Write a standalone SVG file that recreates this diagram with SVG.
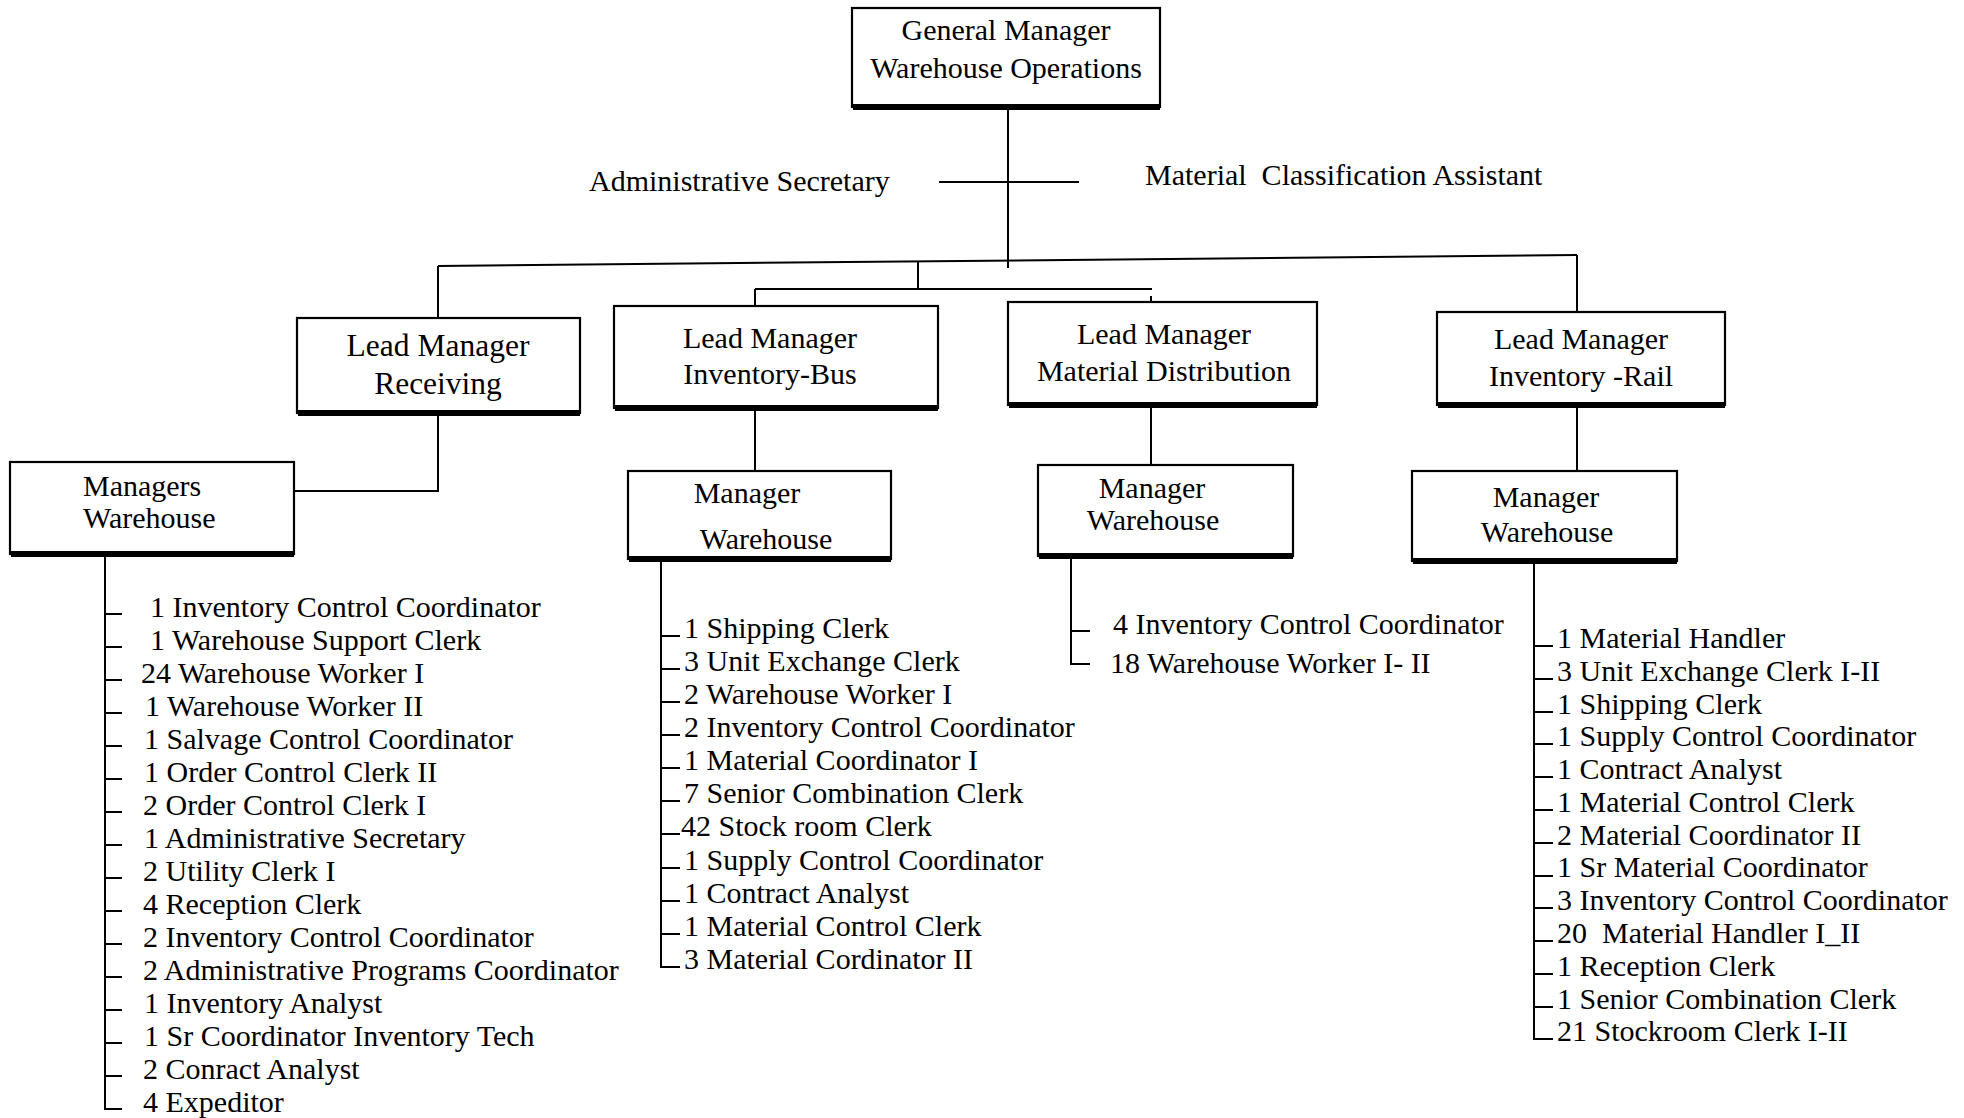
<svg xmlns="http://www.w3.org/2000/svg" width="1964" height="1118" viewBox="0 0 1964 1118">
<style>
.box{fill:#fff;stroke:#000;stroke-width:2.2}
.sh{fill:#000}
.ln{stroke:#000;stroke-width:2;fill:none}
text{font-family:"Liberation Serif","Times New Roman",serif;font-size:30px;fill:#000;white-space:pre}
.c{text-anchor:middle}
.big{font-size:31.5px}
</style>
<rect width="1964" height="1118" fill="#fff"/>
<g id="connectors">
<path class="ln" d="M1008 108V268"/>
<path class="ln" d="M939 182H1079"/>
<path class="ln" d="M438 266L1577 255"/>
<path class="ln" d="M918 262V289"/>
<path class="ln" d="M755 289H1152"/>
<path class="ln" d="M755 289V306"/>
<path class="ln" d="M1151 296V302"/>
<path class="ln" d="M1577 255V312"/>
<path class="ln" d="M438 266V318"/>
<path class="ln" d="M438 413V491H294"/>
<path class="ln" d="M755 408V471"/>
<path class="ln" d="M1151 405V465"/>
<path class="ln" d="M1577 405V471"/>
<path class="ln" d="M105 556V1109H122 M105 614H122 M105 647H122 M105 680H122 M105 713H122 M105 746H122 M105 779H122 M105 812H122 M105 845H122 M105 878H122 M105 911H122 M105 944H122 M105 977H122 M105 1010H122 M105 1043H122 M105 1076H122"/>
<path class="ln" d="M661 561V967H680 M661 636H680 M661 669H680 M661 702H680 M661 735H680 M661 768H680 M661 801H680 M661 834H680 M661 868H680 M661 901H680 M661 934H680"/>
<path class="ln" d="M1071 558V664H1090 M1071 631H1090"/>
<path class="ln" d="M1534 563V1039H1553 M1534 646H1553 M1534 679H1553 M1534 712H1553 M1534 744H1553 M1534 777H1553 M1534 810H1553 M1534 843H1553 M1534 876H1553 M1534 908H1553 M1534 941H1553 M1534 974H1553 M1534 1007H1553"/>
</g>
<g id="gm">
<rect class="box" x="852" y="8" width="308" height="99"/>
<rect class="sh" x="853" y="104" width="307" height="6"/>
<text class="c" x="1006" y="40">General Manager</text>
<text class="c" x="1006" y="78">Warehouse Operations</text>
</g>
<g id="admin-secretary"><text x="589" y="191">Administrative Secretary</text></g>
<g id="material-classification"><text x="1145" y="185">Material  Classification Assistant</text></g>
<g id="lm-receiving">
<rect class="box" x="297" y="318" width="283" height="95"/>
<rect class="sh" x="298" y="410" width="282" height="6"/>
<text class="c big" x="438" y="356">Lead Manager</text>
<text class="c big" x="438" y="394">Receiving</text>
</g>
<g id="lm-bus">
<rect class="box" x="614" y="306" width="324" height="102"/>
<rect class="sh" x="615" y="405" width="323" height="6"/>
<text class="c" x="770" y="348">Lead Manager</text>
<text class="c" x="770" y="384">Inventory-Bus</text>
</g>
<g id="lm-dist">
<rect class="box" x="1008" y="302" width="309" height="103"/>
<rect class="sh" x="1009" y="402" width="308" height="6"/>
<text class="c" x="1164" y="344">Lead Manager</text>
<text class="c" x="1164" y="381">Material Distribution</text>
</g>
<g id="lm-rail">
<rect class="box" x="1437" y="312" width="288" height="93"/>
<rect class="sh" x="1438" y="402" width="287" height="6"/>
<text class="c" x="1581" y="349">Lead Manager</text>
<text class="c" x="1581" y="386">Inventory -Rail</text>
</g>
<g id="mw-receiving">
<rect class="box" x="10" y="462" width="284" height="92"/>
<rect class="sh" x="11" y="551" width="283" height="6"/>
<text x="83" y="496">Managers</text>
<text x="83" y="528">Warehouse</text>
</g>
<g id="mw-bus">
<rect class="box" x="628" y="471" width="263" height="88"/>
<rect class="sh" x="629" y="556" width="262" height="6"/>
<text class="c" x="747" y="503">Manager</text>
<text class="c" x="766" y="549">Warehouse</text>
</g>
<g id="mw-dist">
<rect class="box" x="1038" y="465" width="255" height="91"/>
<rect class="sh" x="1039" y="553" width="254" height="6"/>
<text class="c" x="1152" y="498">Manager</text>
<text class="c" x="1153" y="530">Warehouse</text>
</g>
<g id="mw-rail">
<rect class="box" x="1412" y="471" width="265" height="90"/>
<rect class="sh" x="1413" y="558" width="264" height="6"/>
<text class="c" x="1546" y="507">Manager</text>
<text class="c" x="1547" y="542">Warehouse</text>
</g>
<g id="list-receiving">
<text x="150" y="617">1 Inventory Control Coordinator</text>
<text x="150" y="650">1 Warehouse Support Clerk</text>
<text x="141" y="683">24 Warehouse Worker I</text>
<text x="145" y="716">1 Warehouse Worker II</text>
<text x="144" y="749">1 Salvage Control Coordinator</text>
<text x="144" y="782">1 Order Control Clerk II</text>
<text x="143" y="815">2 Order Control Clerk I</text>
<text x="144" y="848">1 Administrative Secretary</text>
<text x="143" y="881">2 Utility Clerk I</text>
<text x="143" y="914">4 Reception Clerk</text>
<text x="143" y="947">2 Inventory Control Coordinator</text>
<text x="143" y="980">2 Administrative Programs Coordinator</text>
<text x="144" y="1013">1 Inventory Analyst</text>
<text x="144" y="1046">1 Sr Coordinator Inventory Tech</text>
<text x="143" y="1079">2 Conract Analyst</text>
<text x="143" y="1112">4 Expeditor</text>
</g>
<g id="list-bus">
<text x="684" y="638">1 Shipping Clerk</text>
<text x="684" y="671">3 Unit Exchange Clerk</text>
<text x="684" y="704">2 Warehouse Worker I</text>
<text x="684" y="737">2 Inventory Control Coordinator</text>
<text x="684" y="770">1 Material Coordinator I</text>
<text x="684" y="803">7 Senior Combination Clerk</text>
<text x="681" y="836">42 Stock room Clerk</text>
<text x="684" y="870">1 Supply Control Coordinator</text>
<text x="684" y="903">1 Contract Analyst</text>
<text x="684" y="936">1 Material Control Clerk</text>
<text x="684" y="969">3 Material Cordinator II</text>
</g>
<g id="list-dist">
<text x="1113" y="634">4 Inventory Control Coordinator</text>
<text x="1110" y="673">18 Warehouse Worker I- II</text>
</g>
<g id="list-rail">
<text x="1557" y="648">1 Material Handler</text>
<text x="1557" y="681">3 Unit Exchange Clerk I-II</text>
<text x="1557" y="714">1 Shipping Clerk</text>
<text x="1557" y="746">1 Supply Control Coordinator</text>
<text x="1557" y="779">1 Contract Analyst</text>
<text x="1557" y="812">1 Material Control Clerk</text>
<text x="1557" y="845">2 Material Coordinator II</text>
<text x="1557" y="877">1 Sr Material Coordinator</text>
<text x="1557" y="910">3 Inventory Control Coordinator</text>
<text x="1557" y="943">20  Material Handler I_II</text>
<text x="1557" y="976">1 Reception Clerk</text>
<text x="1557" y="1009">1 Senior Combination Clerk</text>
<text x="1557" y="1041">21 Stockroom Clerk I-II</text>
</g>
</svg>
